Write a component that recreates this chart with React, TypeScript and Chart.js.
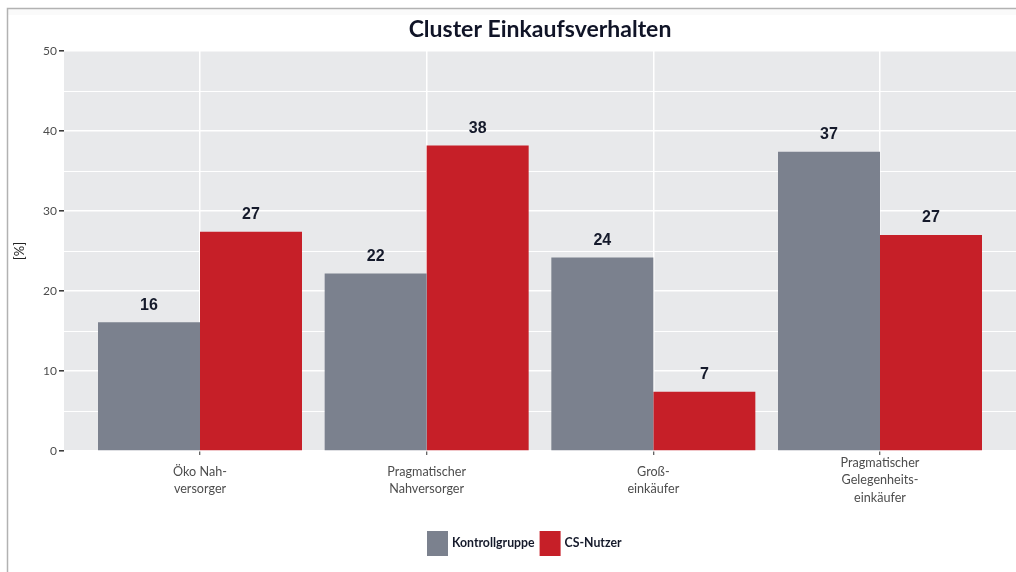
import React, { useEffect, useRef } from 'react';
import { Chart, registerables } from 'chart.js';

Chart.register(...registerables);

const chartTitle = 'Cluster Einkaufsverhalten';
const yAxisTitle = '[%]';
const categories: string[][] = [
  ['Öko Nah-', 'versorger'],
  ['Pragmatischer', 'Nahversorger'],
  ['Groß-', 'einkäufer'],
  ['Pragmatischer', 'Gelegenheits-', 'einkäufer'],
];
const seriesNames = ['Kontrollgruppe', 'CS-Nutzer'];
const kontrollgruppe = [16.1, 22.2, 24.2, 37.4];
const csNutzer = [27.4, 38.2, 7.4, 27.0];
const yMin = 0;
const yMax = 50;
const yMajorStep = 10;
const yMinorStep = 5;
const xExpand = 0.6;

const GREY = '#7b818e';
const RED = '#c61f28';
const PANEL = '#e8e9eb';
const LABEL_FONT = 'Lato';

const decorPlugin = {
  id: 'decor',
  beforeDraw(chart: any) {
    const { ctx, chartArea: a } = chart;
    ctx.save();
    ctx.fillStyle = '#ffffff';
    ctx.fillRect(0, 0, chart.width, chart.height);
    ctx.fillStyle = '#fafafa';
    ctx.fillRect(8, 9, chart.width, 6);
    ctx.fillStyle = PANEL;
    ctx.fillRect(a.left, a.top, a.right - a.left, a.bottom - a.top);
    ctx.strokeStyle = '#b2b2b2';
    ctx.lineWidth = 1.5;
    ctx.beginPath();
    ctx.moveTo(7.5, chart.height);
    ctx.lineTo(7.5, 8.5);
    ctx.lineTo(chart.width, 8.5);
    ctx.stroke();
    ctx.restore();
  },
  afterDatasetsDraw(chart: any) {
    const { ctx } = chart;
    ctx.save();
    ctx.font = 'bold 16px "Liberation Sans"';
    ctx.fillStyle = '#151a2b';
    ctx.textAlign = 'center';
    ctx.textBaseline = 'middle';
    chart.data.datasets.forEach((ds: any, di: number) => {
      const meta = chart.getDatasetMeta(di);
      meta.data.forEach((bar: any, i: number) => {
        ctx.fillText(String(Math.round(ds.data[i].y)), bar.x, bar.y - 17);
      });
    });
    ctx.restore();
  },
  afterDraw(chart: any) {
    const { ctx, chartArea: a } = chart;
    const cx = (a.left + a.right) / 2;
    ctx.save();
    // title
    ctx.font = `bold 23px "${LABEL_FONT}"`;
    ctx.fillStyle = '#101427';
    ctx.textAlign = 'center';
    ctx.textBaseline = 'middle';
    ctx.fillText(chartTitle, cx, 30);
    // y axis title
    ctx.save();
    ctx.translate(20, (a.top + a.bottom) / 2);
    ctx.rotate(-Math.PI / 2);
    ctx.font = `13px "${LABEL_FONT}"`;
    ctx.fillStyle = '#222222';
    ctx.fillText(yAxisTitle, 0, 0);
    ctx.restore();
    // legend
    const colors = [GREY, RED];
    let x = cx - 113;
    const boxTop = 531;
    ctx.font = `bold 12.3px "${LABEL_FONT}"`;
    ctx.textAlign = 'left';
    seriesNames.forEach((name, i) => {
      ctx.fillStyle = colors[i];
      ctx.fillRect(x, boxTop, 21, 25);
      x += 25;
      ctx.fillStyle = '#151a2b';
      ctx.fillText(name, x, boxTop + 12.5);
      x += ctx.measureText(name).width + 5;
    });
    ctx.restore();
  },
};

export default function App() {
  const canvasRef = useRef<HTMLCanvasElement | null>(null);

  useEffect(() => {
    const canvas = canvasRef.current;
    if (!canvas) return;
    const toPoints = (vals: number[]) => vals.map((y, i) => ({ x: i, y }));
    const chart = new Chart(canvas, {
      type: 'bar',
      data: {
        datasets: [
          {
            label: seriesNames[0],
            data: toPoints(kontrollgruppe),
            backgroundColor: GREY,
            borderWidth: 0,
            categoryPercentage: 0.9,
            barPercentage: 1.0,
          },
          {
            label: seriesNames[1],
            data: toPoints(csNutzer),
            backgroundColor: RED,
            borderWidth: 0,
            categoryPercentage: 0.9,
            barPercentage: 1.0,
          },
        ],
      },
      options: {
        responsive: false,
        animation: false,
        layout: { padding: { top: 51, left: 0, right: 0, bottom: 0 } },
        plugins: {
          legend: { display: false },
          title: { display: false },
          tooltip: { enabled: false },
        },
        scales: {
          x: {
            type: 'linear',
            min: -xExpand,
            max: categories.length - 1 + xExpand,
            offset: false,
            border: { display: false },
            afterBuildTicks(scale: any) {
              scale.ticks = categories.map((_, i) => ({ value: i }));
            },
            grid: {
              offset: false,
              color: '#ffffff',
              lineWidth: 1.5,
              drawTicks: true,
              tickLength: 4,
              tickColor: '#333333',
              tickWidth: 1,
            },
            ticks: {
              padding: 7.5,
              crossAlign: 'center',
              color: '#4d4d4d',
              font: { family: LABEL_FONT, size: 12.6, lineHeight: '17.9px' },
              maxRotation: 0,
              autoSkip: false,
              callback: (v: any) => categories[Math.round(Number(v))] ?? '',
            },
            afterFit(scale: any) {
              scale.height = 121;
            },
          },
          y: {
            min: yMin,
            max: yMax,
            border: { display: false },
            grid: {
              color: '#ffffff',
              lineWidth: (c: any) => (c.tick && c.tick.value % yMajorStep === 0 ? 1.6 : 1),
              drawTicks: true,
              tickLength: 5,
              tickColor: (c: any) => (c.tick && c.tick.value % yMajorStep === 0 ? '#333333' : 'rgba(0,0,0,0)'),
              tickWidth: 1.5,
            },
            ticks: {
              stepSize: yMinorStep,
              padding: 2,
              color: '#4d4d4d',
              font: { family: LABEL_FONT, size: 12 },
              callback: (v: any) => (Number(v) % yMajorStep === 0 ? String(v) : ''),
            },
            afterFit(scale: any) {
              scale.width = 64;
            },
          },
        },
      },
      plugins: [decorPlugin],
    } as any);
    return () => chart.destroy();
  }, []);

  return (
    <div style={{ position: 'absolute', left: 0, top: 0, width: 1016, height: 572 }}>
      <canvas ref={canvasRef} width={1016} height={572} />
    </div>
  );
}
